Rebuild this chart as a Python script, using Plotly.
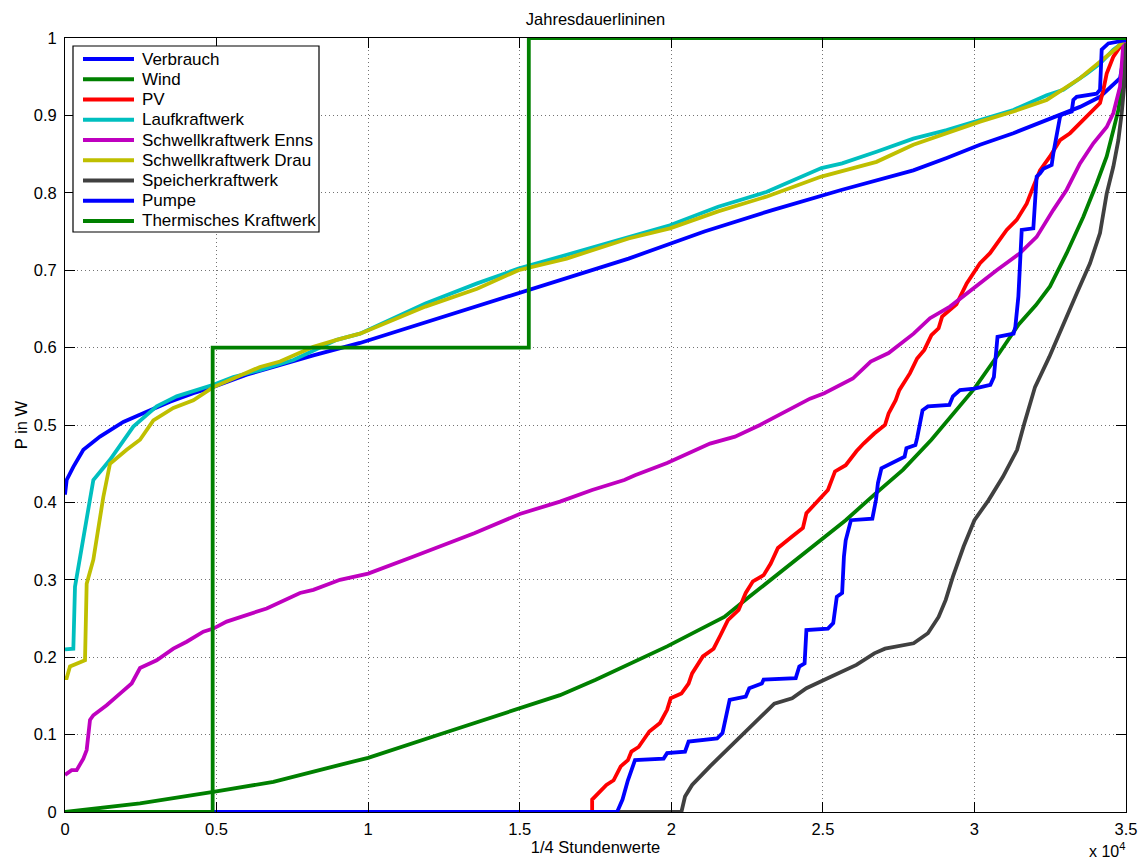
import plotly.graph_objects as go

# Load-duration curves (Jahresdauerlinien), x in quarter-hour samples, P normalised
verbrauch_x = [0, 55, 275, 605, 1155, 1924, 2694, 3464, 4233, 4893, 5993, 7092, 8192, 9731,
               12004, 15297, 18592, 21092, 23362, 25635, 26885, 27984, 29085, 30184, 31284,
               32383, 33483, 34143, 34803, 34968, 35000]
verbrauch_y = [0.410, 0.429, 0.446, 0.468, 0.485, 0.504, 0.517, 0.530, 0.541, 0.549, 0.565,
               0.578, 0.590, 0.606, 0.634, 0.674, 0.715, 0.750, 0.778, 0.804, 0.817, 0.829,
               0.845, 0.862, 0.877, 0.894, 0.911, 0.924, 0.948, 0.985, 1.0]

wind_x = [0, 2474, 4893, 6873, 9072, 10000, 12500, 15000, 16329, 17507, 18685, 19862, 20805,
          21749, 22573, 23398, 24576, 25754, 26697, 27641, 28581, 29290, 29996, 30821, 31460,
          32030, 32493, 33043, 33593, 34032, 34363, 34583, 34748, 34858, 34968, 35000]
wind_y = [0, 0.011, 0.026, 0.039, 0.061, 0.070, 0.102, 0.134, 0.151, 0.171, 0.192, 0.214,
          0.233, 0.252, 0.278, 0.304, 0.341, 0.377, 0.410, 0.442, 0.481, 0.515, 0.547, 0.593,
          0.630, 0.655, 0.679, 0.722, 0.769, 0.812, 0.847, 0.881, 0.907, 0.937, 0.985, 1.0]

pv_x = [0, 17389, 17389, 17626, 17860, 18097, 18332, 18569, 18685, 18922, 19275, 19628, 19862,
        19981, 20334, 20571, 20687, 21043, 21396, 21630, 21868, 22221, 22455, 22693, 23046,
        23280, 23517, 23986, 24342, 24457, 24810, 25167, 25401, 25754, 26107, 26344, 26697,
        27050, 27169, 27403, 27522, 27875, 28109, 28347, 28581, 28818, 28934, 29406, 29745,
        30184, 30514, 30844, 31064, 31394, 31724, 31943, 32163, 32493, 32823, 33153, 33483,
        33813, 34143, 34253, 34363, 34583, 34803, 34913, 35000]
pv_y = [0, 0, 0.016, 0.026, 0.035, 0.041, 0.059, 0.067, 0.078, 0.084, 0.104, 0.115, 0.132,
        0.147, 0.153, 0.166, 0.179, 0.201, 0.211, 0.229, 0.248, 0.261, 0.283, 0.298, 0.306,
        0.321, 0.341, 0.356, 0.367, 0.386, 0.401, 0.416, 0.440, 0.448, 0.466, 0.476, 0.489,
        0.500, 0.515, 0.532, 0.545, 0.567, 0.586, 0.597, 0.616, 0.625, 0.640, 0.656, 0.683,
        0.709, 0.722, 0.739, 0.752, 0.765, 0.786, 0.808, 0.829, 0.847, 0.868, 0.877, 0.890,
        0.903, 0.916, 0.933, 0.954, 0.976, 0.989, 0.995, 1.0]

lauf_x = [0, 275, 330, 385, 495, 825, 935, 1484, 2254, 3024, 3684, 4893, 5553, 6433, 7532,
          8962, 9731, 11889, 13595, 14957, 16547, 18592, 19955, 21545, 23135, 24953, 25635,
          26770, 27984, 29085, 30184, 31284, 32383, 32933, 33703, 34143, 34583, 34858, 35000]
lauf_y = [0.210, 0.211, 0.291, 0.304, 0.326, 0.407, 0.429, 0.455, 0.498, 0.524, 0.537, 0.552,
          0.562, 0.571, 0.584, 0.610, 0.618, 0.657, 0.683, 0.702, 0.720, 0.743, 0.758, 0.782,
          0.801, 0.832, 0.838, 0.853, 0.870, 0.881, 0.894, 0.907, 0.926, 0.933, 0.954, 0.967,
          0.985, 0.993, 1.0]

enns_x = [0, 220, 385, 605, 715, 825, 935, 1374, 1814, 2199, 2474, 3024, 3574, 4014, 4563,
          4893, 5333, 5773, 6653, 7752, 8192, 9072, 10000, 11500, 12500, 13500, 15000, 16329,
          17389, 18450, 18803, 19862, 21277, 22102, 22927, 24576, 25047, 25990, 26578, 27169,
          27994, 28534, 29194, 29745, 30734, 31504, 32053, 32603, 33043, 33483, 33923, 34363,
          34583, 34803, 34913, 35000]
enns_y = [0.048, 0.054, 0.054, 0.069, 0.080, 0.119, 0.125, 0.138, 0.153, 0.166, 0.186, 0.196,
          0.211, 0.220, 0.233, 0.237, 0.246, 0.252, 0.263, 0.283, 0.287, 0.300, 0.308, 0.330,
          0.345, 0.360, 0.385, 0.401, 0.416, 0.429, 0.435, 0.451, 0.476, 0.485, 0.500, 0.534,
          0.541, 0.560, 0.582, 0.593, 0.618, 0.638, 0.653, 0.670, 0.700, 0.722, 0.743, 0.778,
          0.804, 0.838, 0.864, 0.885, 0.903, 0.937, 0.993, 1.0]

drau_x = [0, 55, 165, 605, 660, 715, 935, 1264, 1484, 2034, 2474, 2914, 3574, 4233, 4893,
          5553, 6433, 7092, 8192, 8962, 9731, 11889, 13595, 14957, 16547, 18592, 19955, 21545,
          23135, 24953, 26770, 27984, 29085, 30184, 31284, 32383, 33483, 34143, 34693, 35000]
drau_y = [0.173, 0.173, 0.188, 0.196, 0.196, 0.295, 0.326, 0.407, 0.450, 0.468, 0.481, 0.506,
          0.522, 0.532, 0.549, 0.560, 0.575, 0.582, 0.601, 0.610, 0.618, 0.653, 0.676, 0.700,
          0.715, 0.741, 0.754, 0.776, 0.795, 0.821, 0.840, 0.862, 0.877, 0.892, 0.905, 0.920,
          0.948, 0.970, 0.987, 1.0]

speicher_x = [0, 20334, 20453, 20687, 21277, 21868, 22455, 22927, 23398, 23986, 24457, 25282,
              26107, 26697, 27050, 27994, 28466, 28818, 29053, 29290, 29643, 30000, 30468,
              30940, 31408, 31645, 31998, 32470, 32880, 33373, 33813, 34143, 34363, 34583,
              34748, 34858, 34968, 35000]
speicher_y = [0, 0, 0.020, 0.035, 0.059, 0.082, 0.104, 0.123, 0.140, 0.147, 0.160, 0.175,
              0.190, 0.205, 0.211, 0.218, 0.231, 0.252, 0.274, 0.304, 0.343, 0.377, 0.403,
              0.433, 0.468, 0.502, 0.549, 0.588, 0.626, 0.670, 0.709, 0.748, 0.799, 0.834,
              0.868, 0.903, 0.950, 0.993]

pumpe_x = [0, 18213, 18391, 18569, 18803, 19747, 19862, 20453, 20571, 21512, 21689, 21925,
           22455, 22573, 22986, 23046, 24105, 24223, 24398, 24457, 25167, 25342, 25460, 25636,
           25695, 25754, 25926, 26632, 26751, 26817, 26932, 27285, 27463, 27697, 27757, 28053,
           28109, 28288, 28466, 29172, 29290, 29524, 29996, 30527, 30642, 30761, 31292, 31350,
           31450, 31560, 31943, 32053, 32163, 32273, 32548, 32603, 32823, 32878, 33208, 33263,
           33373, 34032, 34143, 34198, 34418, 34968, 35000]
pumpe_y = [0, 0, 0.016, 0.041, 0.067, 0.069, 0.076, 0.078, 0.091, 0.095, 0.102, 0.145, 0.149,
           0.160, 0.166, 0.171, 0.173, 0.188, 0.192, 0.235, 0.237, 0.244, 0.278, 0.283, 0.330,
           0.351, 0.377, 0.379, 0.403, 0.425, 0.444, 0.451, 0.455, 0.459, 0.470, 0.474, 0.483,
           0.519, 0.524, 0.526, 0.537, 0.545, 0.547, 0.552, 0.562, 0.614, 0.618, 0.627, 0.666,
           0.752, 0.754, 0.821, 0.825, 0.831, 0.836, 0.851, 0.898, 0.901, 0.905, 0.920, 0.924,
           0.928, 0.933, 0.985, 0.993, 0.997, 1.0]

thermisch_x = [0, 4871, 4871, 15300, 15300, 35000]
thermisch_y = [0, 0, 0.6, 0.6, 1.0, 1.0]

series_names = ["Verbrauch", "Wind", "PV", "Laufkraftwerk", "Schwellkraftwerk Enns",
                "Schwellkraftwerk Drau", "Speicherkraftwerk", "Pumpe", "Thermisches Kraftwerk"]
series_colors = ["#0000FF", "#008000", "#FF0000", "#00BFBF", "#BF00BF",
                 "#BFBF00", "#404040", "#0000FF", "#008000"]
series_data = [(verbrauch_x, verbrauch_y), (wind_x, wind_y), (pv_x, pv_y), (lauf_x, lauf_y),
               (enns_x, enns_y), (drau_x, drau_y), (speicher_x, speicher_y),
               (pumpe_x, pumpe_y), (thermisch_x, thermisch_y)]

x_tickvals = [0, 5000, 10000, 15000, 20000, 25000, 30000, 35000]
x_ticktext = ["0", "0.5", "1", "1.5", "2", "2.5", "3", "3.5"]
y_tickvals = [0, 0.1, 0.2, 0.3, 0.4, 0.5, 0.6, 0.7, 0.8, 0.9, 1.0]
y_ticktext = ["0", "0.1", "0.2", "0.3", "0.4", "0.5", "0.6", "0.7", "0.8", "0.9", "1"]

FONT = "Liberation Sans, Arial, sans-serif"
W, H = 1139, 863
ML, MR, MT, MB = 65, 13, 38, 51
PW, PH = W - ML - MR, H - MT - MB
LW = 3.8

fig = go.Figure()
for name, color, (xs, ys) in zip(series_names, series_colors, series_data):
    fig.add_trace(go.Scatter(x=xs, y=ys, mode="lines", name=name,
                             line=dict(color=color, width=LW),
                             cliponaxis=False, showlegend=False))


def px_x(p):
    return (p - ML) / PW


def px_y(p):
    return (H - MB - p) / PH


# legend box drawn in paper coordinates
shapes = [dict(type="rect", xref="paper", yref="paper",
               x0=px_x(73), x1=px_x(319), y0=px_y(232), y1=px_y(46),
               fillcolor="white", line=dict(color="black", width=1.2), layer="above")]
annotations = []
for i, (name, color) in enumerate(zip(series_names, series_colors)):
    yc = px_y(59 + 20.25 * i)
    shapes.append(dict(type="line", xref="paper", yref="paper",
                       x0=px_x(83), x1=px_x(134), y0=yc, y1=yc,
                       line=dict(color=color, width=LW), layer="above"))
    annotations.append(dict(xref="paper", yref="paper", x=px_x(140), y=yc,
                            xanchor="left", yanchor="middle", text=name, showarrow=False,
                            font=dict(family=FONT, size=17, color="black")))

# axis exponent label
annotations.append(dict(xref="paper", yref="paper", x=1.0, y=px_y(861),
                        xanchor="right", yanchor="bottom", text="x 10<sup>4</sup>",
                        showarrow=False, borderpad=0,
                        font=dict(family=FONT, size=16, color="black")))

axis_common = dict(showline=True, linecolor="black", linewidth=1, mirror="allticks",
                   ticks="inside", ticklen=10, tickwidth=1, tickcolor="black",
                   showgrid=True, gridcolor="rgba(0,0,0,0.55)", griddash="1px,3px",
                   gridwidth=1, zeroline=False,
                   tickfont=dict(family=FONT, size=16.5, color="black"))

fig.update_layout(
    width=W, height=H,
    margin=dict(l=ML, r=MR, t=MT, b=MB, autoexpand=False),
    paper_bgcolor="white", plot_bgcolor="white",
    font=dict(family=FONT, color="black"),
    title=dict(text="Jahresdauerlininen", x=0.5, xref="paper", xanchor="center",
               y=1 - 19 / H, yref="container", yanchor="middle",
               font=dict(family=FONT, size=16.5, color="black")),
    xaxis=dict(range=[0, 35000], tickvals=x_tickvals, ticktext=x_ticktext,
               title=dict(text="1/4 Stundenwerte", standoff=2,
                          font=dict(family=FONT, size=16.5, color="black")),
               ticklabelstandoff=2, automargin=False, **axis_common),
    yaxis=dict(range=[0, 1], tickvals=y_tickvals, ticktext=y_ticktext,
               title=dict(text="P in W", standoff=1,
                          font=dict(family=FONT, size=16.5, color="black")),
               ticklabelstandoff=4, automargin=False, **axis_common),
    shapes=shapes, annotations=annotations,
)

fig.write_html("out.html")
